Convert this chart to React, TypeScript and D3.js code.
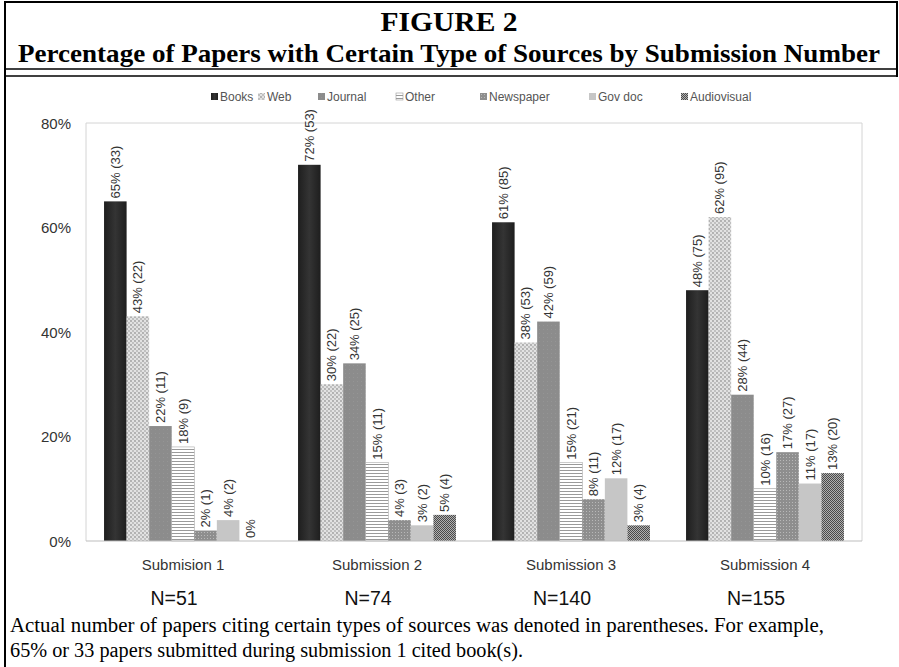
import React from "react";
import * as d3 from "d3";

const categories = ["Submision 1", "Submission 2", "Submission 3", "Submission 4"];
const nLabels = ["N=51", "N=74", "N=140", "N=155"];
const seriesNames = ["Books", "Web", "Journal", "Other", "Newspaper", "Gov doc", "Audiovisual"];

const booksPct = [65, 72, 61, 48];
const booksN = [33, 53, 85, 75];
const webPct = [43, 30, 38, 62];
const webN = [22, 22, 53, 95];
const journalPct = [22, 34, 42, 28];
const journalN = [11, 25, 59, 44];
const otherPct = [18, 15, 15, 10];
const otherN = [9, 11, 21, 16];
const newspaperPct = [2, 4, 8, 17];
const newspaperN = [1, 3, 11, 27];
const govPct = [4, 3, 12, 11];
const govN = [2, 2, 17, 17];
const avPct = [0, 5, 3, 13];
const avN: (number | null)[] = [null, 4, 4, 20];

const yTicks = [0, 20, 40, 60, 80];

const seriesValues = [booksPct, webPct, journalPct, otherPct, newspaperPct, govPct, avPct];
const seriesCounts: (number | null)[][] = [booksN, webN, journalN, otherN, newspaperN, govN, avN];
const fills = ["url(#pBooks)", "url(#pWeb)", "url(#pJournal)", "url(#pOther)", "url(#pNews)", "url(#pGov)", "url(#pAV)"];

const legendX = [211, 258, 318, 396, 480, 589, 681];

const SANS = "'Liberation Sans', Arial, sans-serif";
const SERIF = "'Liberation Serif', 'Times New Roman', serif";

export default function App() {
  const x0 = d3.scaleBand<string>().domain(categories).range([86, 862]).paddingInner(0).paddingOuter(0);
  const x1 = d3.scaleBand<string>().domain(seriesNames).range([0, x0.bandwidth()]).paddingInner(0).paddingOuter(0.8);
  const y = d3.scaleLinear().domain([0, 80]).range([541, 123]);

  return (
    <svg width={899} height={667} style={{ position: "absolute", left: 0, top: 0, background: "#fff" }}>
      <defs>
        <linearGradient id="pBooks" x1="0" x2="1" y1="0" y2="0">
          <stop offset="0" stopColor="#1e1e1e" />
          <stop offset="0.5" stopColor="#343434" />
          <stop offset="1" stopColor="#1e1e1e" />
        </linearGradient>
        <pattern id="pWeb" width="4" height="4" patternUnits="userSpaceOnUse">
          <rect width="4" height="4" fill="#e2e2e2" />
          <circle cx="1" cy="1" r="0.9" fill="#9c9c9c" />
          <circle cx="3" cy="3" r="0.9" fill="#b0b0b0" />
        </pattern>
        <pattern id="pJournal" width="4" height="4" patternUnits="userSpaceOnUse">
          <rect width="4" height="4" fill="#8c8c8c" />
          <rect x="1" y="1" width="1" height="1" fill="#959595" />
        </pattern>
        <pattern id="pOther" width="4" height="3" patternUnits="userSpaceOnUse">
          <rect width="4" height="3" fill="#ffffff" />
          <rect y="2" width="4" height="1" fill="#9a9a9a" />
        </pattern>
        <pattern id="pNews" width="3" height="3" patternUnits="userSpaceOnUse">
          <rect width="3" height="3" fill="#8e8e8e" />
          <rect x="1" y="1" width="1" height="1" fill="#b8b8b8" />
        </pattern>
        <pattern id="pGov" width="4" height="4" patternUnits="userSpaceOnUse">
          <rect width="4" height="4" fill="#c6c6c6" />
        </pattern>
        <pattern id="pAV" width="2" height="2" patternUnits="userSpaceOnUse">
          <rect width="2" height="2" fill="#b0b0b0" />
          <rect width="1" height="1" fill="#4a4a4a" />
          <rect x="1" y="1" width="1" height="1" fill="#4a4a4a" />
        </pattern>
      </defs>

      {/* outer frame */}
      <line x1={5} x2={5} y1={1} y2={667} stroke="#000" strokeWidth={2} />
      <line x1={5} x2={898} y1={2} y2={2} stroke="#000" strokeWidth={2} />
      <line x1={897} x2={897} y1={1} y2={77} stroke="#000" strokeWidth={2} />
      <line x1={5} x2={898} y1={69} y2={69} stroke="#000" strokeWidth={1.5} />
      <line x1={5} x2={898} y1={76} y2={76} stroke="#000" strokeWidth={1.5} />

      {/* titles */}
      <text x={449} y={31} textAnchor="middle" style={{ fontFamily: SERIF }} fontWeight="bold" fontSize={27} textLength={137} lengthAdjust="spacingAndGlyphs">
        FIGURE 2
      </text>
      <text x={449} y={62} textAnchor="middle" style={{ fontFamily: SERIF }} fontWeight="bold" fontSize={26} textLength={862} lengthAdjust="spacingAndGlyphs">
        Percentage of Papers with Certain Type of Sources by Submission Number
      </text>

      {/* legend */}
      {seriesNames.map((s, i) => (
        <g key={s}>
          <rect x={legendX[i]} y={93} width={7} height={7} fill={fills[i]} stroke={i === 3 ? "#999" : "none"} strokeWidth={0.6} />
          <text x={legendX[i] + 9} y={101} style={{ fontFamily: SANS }} fontSize={12} fill="#555">
            {s}
          </text>
        </g>
      ))}

      {/* plot frame */}
      <line x1={86} x2={862} y1={y(80)} y2={y(80)} stroke="#d4d4d4" strokeWidth={1} />
      <line x1={86} x2={86} y1={y(80)} y2={y(0)} stroke="#d4d4d4" strokeWidth={1} />
      <line x1={862} x2={862} y1={y(80)} y2={y(0)} stroke="#d4d4d4" strokeWidth={1} />

      {/* y ticks */}
      {yTicks.map((t) => (
        <text key={t} x={71} y={y(t)} textAnchor="end" dominantBaseline="central" style={{ fontFamily: SANS }} fontSize={15} fill="#333">
          {t}%
        </text>
      ))}

      {/* bars */}
      {categories.map((c, ci) => (
        <g key={c} transform={`translate(${x0(c)},0)`}>
          {seriesNames.map((s, si) => {
            const v = seriesValues[si][ci];
            const n = seriesCounts[si][ci];
            const bx = x1(s)!;
            const bw = x1.bandwidth();
            const top = y(v);
            const label = n === null ? `${v}%` : `${v}% (${n})`;
            return (
              <g key={s}>
                {v > 0 && (
                  <rect x={bx} y={top} width={bw} height={y(0) - top} fill={fills[si]} stroke={si === 3 ? "#aaa" : "none"} strokeWidth={0.6} />
                )}
                <text
                  transform={`translate(${bx + bw / 2},${top - 3}) rotate(-90)`}
                  dominantBaseline="central"
                  style={{ fontFamily: SANS }}
                  fontSize={13}
                  fill="#333"
                >
                  {label}
                </text>
              </g>
            );
          })}
        </g>
      ))}

      {/* baseline */}
      <line x1={86} x2={862} y1={y(0)} y2={y(0)} stroke="#bdbdbd" strokeWidth={1} />

      {/* category labels */}
      {categories.map((c, i) => (
        <g key={c}>
          <text x={x0(c)! + x0.bandwidth() / 2} y={570} textAnchor="middle" style={{ fontFamily: SANS }} fontSize={15} fill="#333">
            {c}
          </text>
          <text x={x0(c)! + x0.bandwidth() / 2 - 9} y={605} textAnchor="middle" style={{ fontFamily: SANS }} fontSize={19.5} fill="#111">
            {nLabels[i]}
          </text>
        </g>
      ))}

      {/* footnote */}
      <text x={10} y={632} style={{ fontFamily: SERIF }} fontSize={20} fill="#000" textLength={814} lengthAdjust="spacingAndGlyphs">
        Actual number of papers citing certain types of sources was denoted in parentheses. For example,
      </text>
      <text x={10} y={657} style={{ fontFamily: SERIF }} fontSize={20} fill="#000" textLength={513} lengthAdjust="spacingAndGlyphs">
        65% or 33 papers submitted during submission 1 cited book(s).
      </text>
    </svg>
  );
}
